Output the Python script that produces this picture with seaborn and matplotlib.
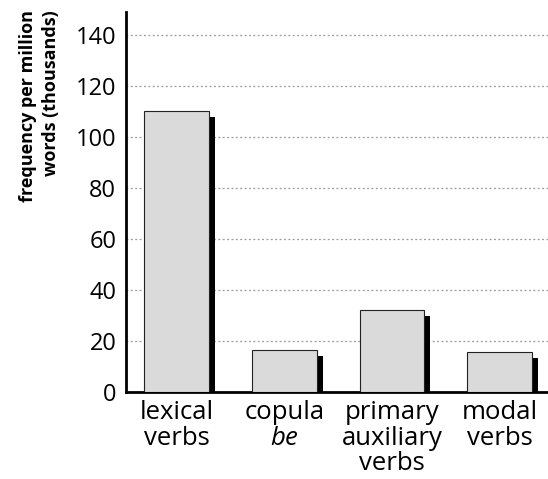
import matplotlib
matplotlib.use("Agg")
import matplotlib.pyplot as plt
import matplotlib.patheffects as pe
import seaborn as sns
import pandas as pd

categories = ["lexical\nverbs", "copula\n$\\mathit{be}$", "primary\nauxiliary\nverbs", "modal\nverbs"]
values = [110, 16.5, 32, 15.7]
yticks = [0, 20, 40, 60, 80, 100, 120, 140]

sns.set_theme(style="white")
plt.rcParams['font.family'] = ['Open Sans', 'DejaVu Sans']
plt.rcParams['mathtext.fontset'] = 'custom'
plt.rcParams['mathtext.it'] = 'Open Sans:italic'
plt.rcParams['mathtext.rm'] = 'Open Sans'
plt.rcParams['text.color'] = 'black'
plt.rcParams['xtick.color'] = 'black'
plt.rcParams['ytick.color'] = 'black'

df = pd.DataFrame({"category": categories, "value": values})

fig = plt.figure(figsize=(5.48, 4.79), dpi=100)
ax = fig.add_axes([0.23, 0.1816, 0.77, 0.7933])

sns.barplot(data=df, x="category", y="value", ax=ax, color="#dadada",
            width=0.6, edgecolor="#222222", linewidth=0.8, saturation=1, zorder=3)
for p in ax.patches:
    p.set_path_effects([pe.SimplePatchShadow(offset=(4.3, -4.3), shadow_rgbFace="black", alpha=1.0),
                        pe.Normal()])

ax.set_xlim(-0.47, 3.45)
ax.set_ylim(0, 149)
ax.set_yticks(yticks)
ax.set_yticklabels([str(t) for t in yticks], fontsize=17)
ax.tick_params(axis="x", labelsize=18.5, length=0, pad=6)
ax.tick_params(axis="y", length=0, pad=7)
for lbl in ax.get_xticklabels():
    lbl.set_linespacing(1.03)
ax.set_xlabel("")
ax.set_ylabel("")
for y in yticks[1:]:
    ax.axhline(y, color="#999999", linestyle=(0, (1.5, 2)), linewidth=0.9, zorder=1)

for s in ["top", "right"]:
    ax.spines[s].set_visible(False)
for s in ["left", "bottom"]:
    ax.spines[s].set_color("black")
    ax.spines[s].set_linewidth(2)

fig.text(39.5 / 548, 1 - 106 / 479, "frequency per million\nwords (thousands)", fontsize=13,
         fontweight="bold", rotation=90, ha="center", va="center",
         multialignment="right", linespacing=1.35)

fig.savefig("out.png", dpi=100)
